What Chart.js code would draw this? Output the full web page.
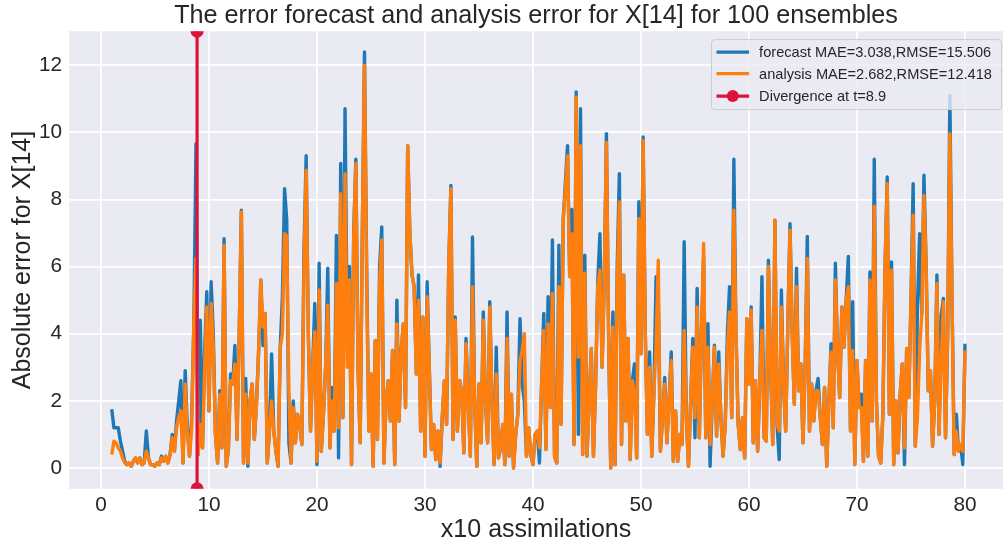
<!DOCTYPE html>
<html>
<head>
<meta charset="utf-8">
<script src="https://cdn.jsdelivr.net/npm/chart.js@4.4.1/dist/chart.umd.min.js"></script>
<style>
  html, body { margin: 0; padding: 0; background: #fff; overflow: hidden; }
  #chart { display: block; width: 1003px; height: 545px; }
</style>
</head>
<body>
<canvas id="chart" width="1003" height="545"></canvas>
<script>
// sampling of the time axis (x10 assimilations)
const tStart = 1.0;
const tStep = 0.2;
const divergenceT = 8.9;

// absolute error of the forecast
const forecastErr = [
  1.75,1.2,1.2,1.2,0.8,  0.5,0.2,0.1,0.15,0.05,  0.2,0.3,0.15,0.3,0.1,  0.15,1.1,0.3,0.1,0.1,
  0.05,0.15,0.1,0.35,0.2,  0.35,0.15,0.4,1.0,0.5,  1.4,2.0,2.6,0.15,2.9,  1.2,0.35,1.5,4.3,9.66,
  0.4,4.4,0.6,3.5,5.25,  1.7,5.55,4.0,1.0,0.15,  2.3,0.6,6.83,0.05,0.55,  2.8,2.5,3.65,0.85,4.0,
  7.68,0.15,2.67,0.05,2.0,  2.5,0.85,1.9,3.5,5.6,  3.65,4.6,0.15,1.1,3.4,  1.1,0.5,0.05,3.6,5.1,
  8.32,7.4,0.75,0.15,2.0,  0.75,1.6,1.3,0.7,6.5,  9.3,4.0,1.1,3.0,4.9,  0.1,6.1,0.5,1.6,3.0,
  5.95,0.6,2.4,1.1,6.93,  0.3,9.07,1.5,10.7,4.0,  6.0,0.1,7.0,9.2,3.0,  0.75,7.0,12.39,6.0,1.1,
  2.8,0.05,3.8,0.85,6.0,  7.18,0.15,2.0,2.6,1.4,  3.5,0.1,5.0,1.4,3.5,  4.3,1.8,9.6,7.0,5.75,
  5.4,2.8,5.75,1.1,4.5,  0.35,5.55,3.0,0.55,1.3,  0.25,1.1,0.05,1.5,2.6,  1.3,6.0,8.42,0.85,4.5,
  1.1,2.6,2.3,0.45,3.86,  2.0,0.35,6.88,1.9,0.05,  2.5,0.75,4.65,2.0,0.75,  4.95,2.0,0.1,3.6,0.3,
  0.6,1.3,0.1,4.65,0.35,  2.2,0.0,1.0,1.6,4.45,  2.5,2.0,0.35,1.2,0.4,  0.1,1.0,1.1,0.15,2.5,
  4.6,0.55,5.1,1.8,6.79,  0.35,0.15,6.64,1.3,7.4,  8.5,9.6,5.7,7.7,0.7,  11.2,1.0,10.7,0.4,6.34,
  0.35,2.0,3.56,0.35,2.5,  5.55,6.98,3.0,5.5,9.96,  4.0,0.0,4.65,0.1,6.0,  8.77,0.7,5.75,1.4,3.86,
  0.25,2.6,3.1,0.3,7.93,  3.4,9.86,4.0,1.0,3.46,  0.35,2.3,5.7,5.0,0.5,  1.5,2.7,0.75,2.0,3.46,
  0.2,1.7,0.2,1.0,0.7,  6.74,1.5,0.05,2.0,3.86,  0.9,5.35,0.9,4.0,6.3,  0.9,4.3,0.05,2.0,3.66,
  0.95,3.46,1.5,0.35,1.3,  4.0,5.4,1.5,9.2,4.0,  1.3,0.55,1.5,0.3,4.45,  2.5,4.8,0.75,2.6,0.5,
  2.5,5.7,0.9,0.8,6.19,  3.0,0.7,7.38,1.3,0.25,  5.3,2.5,1.1,4.3,7.28,  4.0,1.9,5.95,2.3,3.1,
  0.75,3.0,6.9,1.1,2.5,  1.4,2.3,2.67,1.5,0.7,  2.4,0.05,2.0,3.7,1.2,  6.1,3.5,2.1,4.8,3.6,
  5.0,6.3,1.1,4.95,0.1,  3.2,1.8,2.2,0.2,3.2,  0.35,5.84,1.4,9.2,2.0,  0.35,0.15,1.6,6.0,8.67,
  1.6,6.14,0.1,2.0,0.45,  2.2,3.1,0.1,3.56,2.1,  5.0,8.47,0.65,4.8,6.98,  4.6,8.72,6.1,2.3,2.9,
  0.65,2.0,5.75,1.0,4.55,  5.05,0.9,4.0,11.1,5.0,  0.4,1.6,0.5,0.7,0.1,  3.7
];

// absolute error of the analysis
const analysisErr = [
  0.4,0.8,0.75,0.6,0.5,  0.3,0.15,0.1,0.15,0.05,  0.2,0.3,0.15,0.3,0.1,  0.15,0.5,0.3,0.1,0.1,
  0.05,0.15,0.1,0.3,0.2,  0.35,0.15,0.4,0.9,0.5,  1.2,1.5,1.7,0.15,2.5,  1.0,0.35,1.2,4.3,6.24,
  0.4,1.3,0.6,3.0,4.8,  1.7,4.9,3.6,1.0,0.15,  2.2,0.6,6.64,0.05,0.55,  2.6,2.5,3.1,0.85,4.0,
  7.63,0.15,2.2,0.15,2.0,  2.5,0.85,1.9,3.5,5.6,  4.2,4.6,0.15,1.1,2.0,  1.1,0.5,0.05,3.6,4.0,
  6.98,6.9,2.3,0.15,1.8,  0.75,1.6,1.3,0.7,6.0,  8.87,4.0,1.1,3.0,4.06,  0.2,5.3,0.5,1.6,3.0,
  4.85,0.6,2.0,1.1,5.5,  1.2,8.17,1.5,8.77,3.0,  5.6,0.1,6.8,9.07,3.0,  0.75,7.0,12.0,5.5,1.1,
  2.8,0.05,3.8,0.85,5.5,  6.79,0.15,2.0,2.6,1.4,  3.5,0.1,4.3,1.4,3.5,  4.3,1.8,9.6,7.0,5.75,
  5.4,2.8,5.0,1.1,4.5,  0.35,5.1,3.0,0.55,1.3,  0.25,1.1,0.15,1.5,2.6,  1.3,6.0,8.32,0.85,4.4,
  1.1,2.6,2.3,0.45,3.7,  2.0,0.35,5.4,1.9,0.05,  2.5,0.75,4.4,2.0,0.75,  4.8,2.0,0.1,2.8,0.3,
  0.6,1.3,0.1,3.86,0.35,  2.2,0.0,1.0,1.6,3.2,  3.5,4.0,0.35,1.2,0.4,  0.1,1.0,1.1,0.6,2.5,
  4.1,0.55,4.3,1.8,5.2,  0.35,0.15,5.4,1.3,7.4,  8.3,9.3,5.7,6.98,0.7,  11.05,3.3,9.6,0.4,5.8,
  0.35,2.0,3.56,0.35,2.5,  5.4,5.9,3.0,5.5,9.7,  4.0,0.0,4.2,0.1,5.5,  7.93,0.7,5.75,1.4,3.86,
  0.25,2.6,2.2,0.3,7.43,  3.4,9.76,4.0,1.0,3.0,  0.35,2.3,3.6,6.19,0.5,  1.5,2.5,0.75,2.0,3.2,
  0.2,1.7,0.2,1.0,0.7,  4.1,1.5,0.05,2.0,3.6,  1.5,4.8,0.9,4.0,6.69,  0.9,3.6,0.7,2.0,3.6,
  0.95,3.1,1.5,0.35,1.3,  3.5,4.65,1.5,7.68,4.0,  1.3,0.55,1.5,0.3,4.45,  2.5,4.7,0.75,2.6,0.5,
  2.5,4.1,0.9,0.8,6.0,  3.0,0.7,7.38,1.3,1.1,  4.8,2.5,1.1,4.3,7.08,  4.0,1.9,5.4,2.3,3.1,
  0.75,3.0,6.24,1.1,2.5,  1.4,2.3,2.3,1.5,0.7,  2.4,0.05,2.0,3.46,1.2,  5.6,3.5,2.1,4.8,3.6,
  5.0,5.4,1.1,3.5,0.1,  3.2,1.8,1.8,0.2,3.2,  0.35,5.6,1.4,7.8,2.0,  0.35,0.15,1.6,6.0,8.47,
  1.6,5.9,0.1,2.0,0.45,  2.2,3.1,0.6,3.56,2.1,  5.0,7.53,0.65,1.5,3.5,  4.6,8.12,6.0,2.3,2.9,
  0.65,2.0,5.5,1.0,3.1,  4.95,0.9,4.0,9.96,5.0,  0.4,1.1,0.5,0.7,0.5,  3.5
];

const xTicks = [0, 10, 20, 30, 40, 50, 60, 70, 80];
const yTicks = [0, 2, 4, 6, 8, 10, 12];
const labels = ['forecast MAE=3.038,RMSE=15.506', 'analysis MAE=2.682,RMSE=12.418', 'Divergence at t=8.9'];

// the right margin of the original axes is cut off by the picture edge
const xMin = -2.95, xMax = 83.52;
const yMin = -0.62, yMax = 13.01;

const FONT = "'Liberation Sans', Arial, sans-serif";
const TEXT = '#262626';
const BLUE = '#1f77b4', ORANGE = '#ff7f0e', RED = '#dc143c';

const steps = forecastErr.map((_, i) => +(tStart + i * tStep).toFixed(1));
const forecastPts = steps.map((t, i) => ({x: t, y: forecastErr[i]}));
const analysisPts = steps.map((t, i) => ({x: t, y: analysisErr[i]}));

// axes background like seaborn darkgrid
const background = {
  id: 'background',
  beforeDraw(chart) {
    const {ctx, chartArea: a} = chart;
    ctx.save();
    ctx.fillStyle = '#ffffff';
    ctx.fillRect(0, 0, chart.width, chart.height);
    ctx.fillStyle = '#eaeaf2';
    ctx.fillRect(a.left, a.top, a.right - a.left, a.bottom - a.top);
    ctx.restore();
  }
};

// legend box drawn inside the upper right corner of the axes
const legendBox = {
  id: 'legendBox',
  afterDraw(chart) {
    const {ctx, chartArea: a} = chart;
    const w = 290, h = 70;
    const x = a.right - 1.5 - w, y = a.top + 8.4;
    ctx.save();
    ctx.beginPath();
    ctx.roundRect(x, y, w, h, 3);
    ctx.fillStyle = 'rgba(234,234,242,0.8)';
    ctx.fill();
    ctx.strokeStyle = '#cccccc';
    ctx.lineWidth = 1;
    ctx.stroke();
    const rows = [12.4, 34, 56.4];
    const colors = [BLUE, ORANGE, RED];
    ctx.font = '14.6px ' + FONT;
    ctx.textBaseline = 'middle';
    rows.forEach((dy, i) => {
      const ly = y + dy;
      ctx.beginPath();
      ctx.moveTo(x + 5, ly);
      ctx.lineTo(x + 37.6, ly);
      ctx.strokeStyle = colors[i];
      ctx.lineWidth = 3.2;
      ctx.stroke();
      if (i === 2) {
        ctx.beginPath();
        ctx.arc(x + 21.3, ly, 6, 0, Math.PI * 2);
        ctx.fillStyle = RED;
        ctx.fill();
      }
      ctx.fillStyle = TEXT;
      ctx.fillText(labels[i], x + 47.6, ly + 1);
    });
    ctx.restore();
  }
};

new Chart(document.getElementById('chart'), {
  type: 'line',
  data: {
    datasets: [
      {
        label: labels[0],
        data: forecastPts,
        borderColor: BLUE,
        borderWidth: 3.4,
        borderJoinStyle: 'round',
        pointRadius: 0,
        tension: 0,
        order: 3
      },
      {
        label: labels[1],
        data: analysisPts,
        borderColor: ORANGE,
        borderWidth: 3.4,
        borderJoinStyle: 'round',
        pointRadius: 0,
        tension: 0,
        order: 2
      },
      {
        label: labels[2],
        data: [{x: divergenceT, y: yMin}, {x: divergenceT, y: yMax}],
        borderColor: RED,
        backgroundColor: RED,
        borderWidth: 3.2,
        pointRadius: 6.5,
        pointBorderWidth: 0,
        pointBackgroundColor: RED,
        order: 1
      }
    ]
  },
  options: {
    responsive: false,
    animation: false,
    events: [],
    layout: { padding: 0, autoPadding: false },
    scales: {
      x: {
        type: 'linear',
        min: xMin,
        max: xMax,
        afterBuildTicks: s => { s.ticks = xTicks.map(v => ({value: v})); },
        afterFit: s => { s.height = 56.2; s.paddingLeft = 0; s.paddingRight = 0; },
        grid: { color: '#ffffff', lineWidth: 1.8, drawTicks: false },
        border: { display: false },
        ticks: { color: TEXT, font: { family: FONT, size: 20.8 }, padding: 4, maxRotation: 0, autoSkip: false },
        title: { display: true, text: 'x10 assimilations', color: TEXT, font: { family: FONT, size: 25 }, padding: { top: 4, bottom: 0 } }
      },
      y: {
        min: yMin,
        max: yMax,
        afterBuildTicks: s => { s.ticks = yTicks.map(v => ({value: v})); },
        afterFit: s => { s.width = 69.1; s.paddingTop = 0; s.paddingBottom = 0; },
        grid: { color: '#ffffff', lineWidth: 1.8, drawTicks: false },
        border: { display: false },
        ticks: { color: TEXT, font: { family: FONT, size: 20.8 }, padding: 7 },
        title: { display: true, text: 'Absolute error for X[14]', color: TEXT, font: { family: FONT, size: 25 }, padding: { top: 8, bottom: 0 } }
      }
    },
    plugins: {
      legend: { display: false },
      tooltip: { enabled: false },
      title: {
        display: true,
        text: 'The error forecast and analysis error for X[14] for 100 ensembles',
        color: TEXT,
        fullSize: false,
        font: { family: FONT, size: 25.2, weight: 'normal' },
        padding: { top: 1, bottom: 0 }
      }
    }
  },
  plugins: [background, legendBox]
});
</script>
</body>
</html>
